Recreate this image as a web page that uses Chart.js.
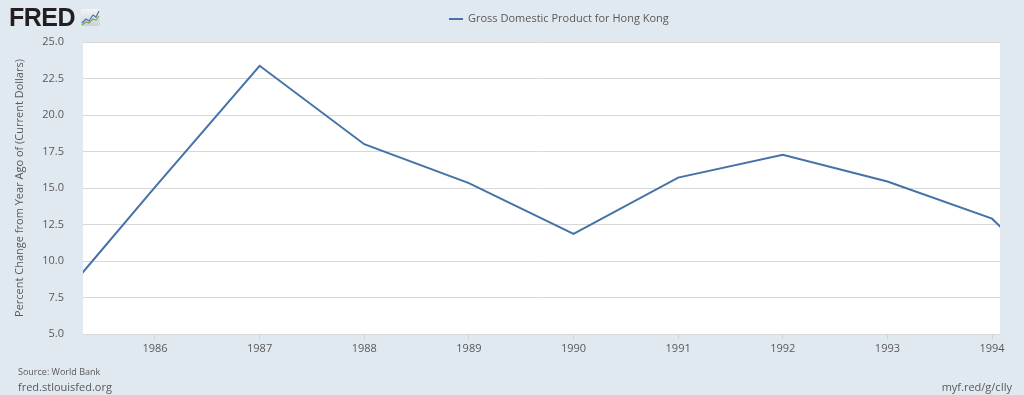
<!DOCTYPE html>
<html>
<head>
<meta charset="utf-8">
<script src="https://cdn.jsdelivr.net/npm/chart.js@4"></script>
<style>
  html, body { margin: 0; padding: 0; background: #e1e9f0; }
  #wrap { position: relative; width: 1024px; height: 395px; font-family: "Open Sans", sans-serif; color: #595959; }
  canvas { position: absolute; left: 0; top: 0; }
  .logo { position: absolute; left: 9px; top: 3px; font: bold 25px "Liberation Sans", Arial, sans-serif; color: #231f20; letter-spacing: -0.5px; line-height: 28px; }
  .icon { position: absolute; left: 81px; top: 9px; width: 19px; height: 17px; background: linear-gradient(#f4f6f8, #c9d1d8); border-radius: 2px; }
  .legend { position: absolute; left: 449px; top: 10px; font-size: 11px; }
  .legend span.ln { display: inline-block; width: 14px; height: 2px; background: #4572a7; vertical-align: middle; margin-right: 5px; }
  .src { position: absolute; left: 18px; top: 365px; font-size: 9px; }
  .site { position: absolute; left: 18px; top: 379px; font-size: 11px; }
  .short { position: absolute; right: 12px; top: 379px; font-size: 11px; }
</style>
</head>
<body>
<div id="wrap">
  <canvas id="chart" width="1024" height="395"></canvas>
  <div class="logo">FRED</div>
  <div class="icon"><svg width="19" height="17"><polyline points="1,14 5,10 8,12 12,6 15,8 18,2" fill="none" stroke="#4572a7" stroke-width="1.2"/><polyline points="1,16 5,13 8,14 12,10 15,11 18,7" fill="none" stroke="#7fa64a" stroke-width="1.2"/></svg></div>
  <div class="legend"><span class="ln"></span>Gross Domestic Product for Hong Kong</div>
  <div class="src">Source: World Bank</div>
  <div class="site">fred.stlouisfed.org</div>
  <div class="short">myf.red/g/cIly</div>
</div>
<script>
// annual observations (Jan 1 of each year)
const years = [1985, 1986, 1987, 1988, 1989, 1990, 1991, 1992, 1993, 1994, 1995];
const gdpChange = [6.6, 15.06, 23.37, 18.0, 15.33, 11.85, 15.71, 17.27, 15.44, 12.9, 5.9];
const xMin = 1985.312;
const xMax = 1994.076;

const textColor = '#595959';

const plotBackground = {
    id: 'plotBackground',
    beforeDraw(chart) {
        const { ctx, chartArea: a } = chart;
        ctx.save();
        ctx.fillStyle = '#ffffff';
        ctx.fillRect(a.left, a.top, a.right - a.left, a.bottom - a.top);
        ctx.restore();
    }
};

new Chart(document.getElementById('chart').getContext('2d'), {
    type: 'line',
    data: {
        datasets: [{
            label: 'Gross Domestic Product for Hong Kong',
            data: years.map((y, i) => ({ x: y, y: gdpChange[i] })),
            borderColor: '#4572a7',
            borderWidth: 2,
            pointRadius: 0,
            tension: 0,
            fill: false
        }]
    },
    options: {
        responsive: false,
        animation: false,
        layout: { padding: { left: 0, right: 24, top: 42, bottom: 0 } },
        plugins: { legend: { display: false }, tooltip: { enabled: false } },
        scales: {
            x: {
                type: 'linear',
                min: xMin,
                max: xMax,
                afterBuildTicks: (scale) => { scale.ticks = years.filter(y => y >= xMin && y <= xMax).map(v => ({ value: v })); },
                afterFit: (scale) => { scale.height = 61; },
                ticks: { color: textColor, font: { family: 'Open Sans', size: 11 }, padding: 3, callback: (v) => String(v), maxRotation: 0 },
                grid: { drawOnChartArea: false, drawTicks: true, tickLength: 5, color: '#d0d0d0' },
                border: { display: false }
            },
            y: {
                min: 5,
                max: 25,
                afterFit: (scale) => { scale.width = 83; },
                ticks: { stepSize: 2.5, color: textColor, font: { family: 'Open Sans', size: 11 }, padding: 19, callback: (v) => v.toFixed(1) },
                grid: { color: '#d8d8d8', drawTicks: false },
                border: { display: false },
                title: {
                    display: true,
                    text: 'Percent Change from Year Ago of (Current Dollars)',
                    color: textColor,
                    font: { family: 'Open Sans', size: 11 },
                    padding: { top: 13, bottom: 0 }
                }
            }
        }
    },
    plugins: [plotBackground]
});
</script>
</body>
</html>
